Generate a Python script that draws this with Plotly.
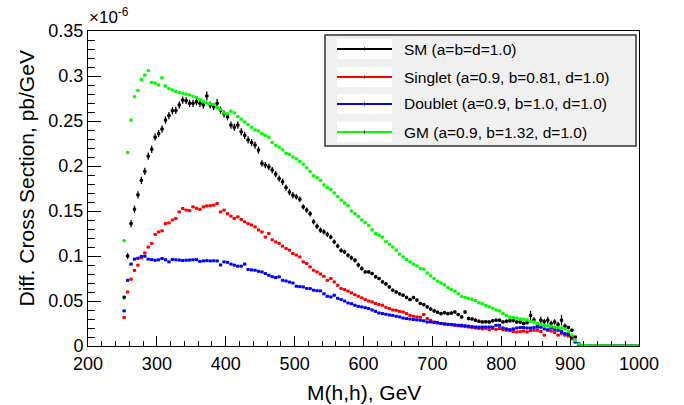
import plotly.graph_objects as go

# ---------------- data (values in units of 1e-6 pb/GeV) ----------------
BIN_START = 250.0   # GeV, lower edge of first bin
BIN_WIDTH = 5.0     # GeV

SM = [
 0.054, 0.100, 0.136, 0.152, 0.168, 0.184, 0.194, 0.211, 0.2185, 0.232,
 0.236, 0.241, 0.251, 0.256, 0.2614, 0.2617, 0.2678, 0.2733, 0.2725, 0.2696,
 0.2696, 0.2714, 0.2696, 0.2678, 0.2778, 0.2678, 0.266, 0.2696, 0.262, 0.258,
 0.2547, 0.2455, 0.243, 0.2455, 0.238, 0.234, 0.229, 0.226, 0.2233, 0.2177,
 0.203, 0.201, 0.199, 0.1955, 0.191, 0.186, 0.1825, 0.176, 0.171, 0.1676,
 0.1658, 0.163, 0.1546, 0.151, 0.147, 0.138, 0.133, 0.1287, 0.1268, 0.124,
 0.121, 0.1157, 0.111, 0.106, 0.1046, 0.1009, 0.098, 0.0953, 0.090, 0.086,
 0.0823, 0.0823, 0.0805, 0.077, 0.075, 0.0712, 0.069, 0.0656, 0.062, 0.060,
 0.058, 0.0564, 0.054, 0.0516, 0.0538, 0.051, 0.0472, 0.046, 0.0434, 0.041,
 0.039, 0.0375, 0.036, 0.037, 0.036, 0.0365, 0.0378, 0.035, 0.0323, 0.0378,
 0.0305, 0.030, 0.0286, 0.0275, 0.0267, 0.027, 0.0267, 0.028, 0.0286, 0.0286,
 0.0267, 0.0275, 0.028, 0.0286, 0.0267, 0.0267, 0.025, 0.026, 0.034, 0.029,
 0.023, 0.0286, 0.027, 0.0286, 0.025, 0.0267, 0.024, 0.0286, 0.022, 0.0205,
 0.0175, 0.010, 0.0027, 0.0005, 0.0003, 0.0002, 0.0002, 0.0001, 0.0001, 0.0001,
 0.0001, 0.0001, 0.0001, 0.0001, 0.0001, 0.0001, 0.0001, 0.0001, 0.0001, 0.0001,
]

SM_ERR = [
 0.002, 0.003, 0.004, 0.004, 0.004, 0.004, 0.004, 0.004, 0.004, 0.004,
 0.004, 0.004, 0.004, 0.004, 0.004, 0.004, 0.004, 0.004, 0.004, 0.004,
 0.004, 0.004, 0.004, 0.004, 0.005, 0.004, 0.004, 0.005, 0.004, 0.004,
 0.004, 0.004, 0.004, 0.004, 0.004, 0.004, 0.004, 0.004, 0.004, 0.004,
 0.0035, 0.0035, 0.0035, 0.0035, 0.0035, 0.0035, 0.0035, 0.0035, 0.0035, 0.0035,
 0.003, 0.003, 0.003, 0.003, 0.003, 0.003, 0.003, 0.003, 0.003, 0.003,
 0.0025, 0.0025, 0.0025, 0.0025, 0.0025, 0.0025, 0.0025, 0.0025, 0.0025, 0.0025,
 0.002, 0.002, 0.002, 0.002, 0.002, 0.002, 0.002, 0.002, 0.002, 0.002,
 0.002, 0.002, 0.002, 0.002, 0.002, 0.002, 0.002, 0.002, 0.002, 0.002,
 0.002, 0.002, 0.002, 0.002, 0.002, 0.002, 0.002, 0.002, 0.002, 0.002,
 0.002, 0.002, 0.002, 0.002, 0.002, 0.002, 0.002, 0.002, 0.002, 0.002,
 0.002, 0.002, 0.002, 0.0025, 0.002, 0.002, 0.002, 0.002, 0.005, 0.003,
 0.002, 0.004, 0.003, 0.004, 0.003, 0.003, 0.003, 0.006, 0.003, 0.002,
 0.002, 0.001, 0.0005, 0, 0, 0, 0, 0, 0, 0,
 0, 0, 0, 0, 0, 0, 0, 0, 0, 0,
]

SINGLET = [
 0.0316, 0.060, 0.0742, 0.084, 0.0898, 0.098, 0.1035, 0.110, 0.114, 0.124,
 0.1268, 0.128, 0.136, 0.1368, 0.140, 0.1417, 0.149, 0.1528, 0.151, 0.1505,
 0.1546, 0.153, 0.1518, 0.1546, 0.1557, 0.156, 0.1565, 0.1584, 0.149, 0.151,
 0.147, 0.1443, 0.1417, 0.1435, 0.1406, 0.138, 0.136, 0.1345, 0.1324, 0.129,
 0.1268, 0.121, 0.125, 0.118, 0.1157, 0.114, 0.111, 0.1083, 0.1065, 0.1028,
 0.101, 0.099, 0.0935, 0.0916, 0.088, 0.0842, 0.0823, 0.080, 0.0775, 0.073,
 0.075, 0.0712, 0.0675, 0.0638, 0.0627, 0.061, 0.059, 0.057, 0.0553, 0.0535,
 0.0516, 0.050, 0.049, 0.0472, 0.046, 0.0453, 0.043, 0.0416, 0.040, 0.0397,
 0.0385, 0.0378, 0.036, 0.034, 0.033, 0.0323, 0.032, 0.035, 0.0305, 0.0285,
 0.0267, 0.026, 0.025, 0.0245, 0.024, 0.0235, 0.023, 0.0225, 0.022, 0.0215,
 0.0211, 0.0205, 0.020, 0.0194, 0.019, 0.0194, 0.018, 0.0194, 0.0185, 0.0194,
 0.018, 0.0175, 0.017, 0.016, 0.0156, 0.016, 0.0165, 0.0156, 0.017, 0.0175,
 0.0175, 0.016, 0.012, 0.0175, 0.0165, 0.015, 0.012, 0.014, 0.012, 0.011,
 0.008, 0.0045, 0.001, 0.0003, 0.0002, 0.0001, 0.0001, 0.0001, 0.0, 0.0,
 0.0, 0.0, 0.0, 0.0, 0.0, 0.0, 0.0, 0.0, 0.0, 0.0,
]

DOUBLET = [
 0.039, 0.073, 0.091, 0.0965, 0.0975, 0.0995, 0.0998, 0.0965, 0.096, 0.0953,
 0.0958, 0.0972, 0.0958, 0.0935, 0.0962, 0.0958, 0.0955, 0.095, 0.0953, 0.0955,
 0.0958, 0.096, 0.094, 0.0945, 0.0948, 0.0945, 0.0947, 0.0945, 0.090, 0.0935,
 0.093, 0.091, 0.0898, 0.0887, 0.0887, 0.091, 0.085, 0.0845, 0.0842, 0.083,
 0.0823, 0.0805, 0.0786, 0.077, 0.076, 0.0768, 0.073, 0.0723, 0.071, 0.070,
 0.0664, 0.066, 0.0656, 0.064, 0.0638, 0.062, 0.0615, 0.0612, 0.058, 0.0553,
 0.0545, 0.0564, 0.053, 0.0516, 0.050, 0.0478, 0.047, 0.0453, 0.044, 0.0434,
 0.0425, 0.0416, 0.040, 0.0385, 0.0367, 0.036, 0.0353, 0.0345, 0.034, 0.033,
 0.0323, 0.031, 0.0305, 0.030, 0.0294, 0.029, 0.0286, 0.028, 0.0267, 0.0267,
 0.026, 0.0256, 0.025, 0.0245, 0.0241, 0.024, 0.0235, 0.023, 0.023, 0.0225,
 0.022, 0.0215, 0.0211, 0.021, 0.0211, 0.021, 0.0211, 0.021, 0.023, 0.023,
 0.020, 0.019, 0.0182, 0.019, 0.020, 0.0205, 0.0205, 0.020, 0.020, 0.0205,
 0.021, 0.021, 0.019, 0.018, 0.020, 0.0185, 0.0175, 0.016, 0.0138, 0.013,
 0.010, 0.0045, 0.001, 0.0003, 0.0002, 0.0001, 0.0001, 0.0001, 0.0, 0.0,
 0.0, 0.0, 0.0, 0.0, 0.0, 0.0, 0.0, 0.0, 0.0, 0.0,
]

GM = [
 0.117, 0.215, 0.251, 0.277, 0.284, 0.296, 0.301, 0.306, 0.293, 0.292,
 0.290, 0.298, 0.289, 0.286, 0.2845, 0.283, 0.2815, 0.281, 0.280, 0.279,
 0.2775, 0.276, 0.274, 0.2715, 0.270, 0.269, 0.2685, 0.265, 0.263, 0.259,
 0.258, 0.261, 0.259, 0.255, 0.252, 0.249, 0.246, 0.243, 0.240, 0.239,
 0.236, 0.234, 0.232, 0.226, 0.223, 0.221, 0.218, 0.214, 0.213, 0.210,
 0.208, 0.205, 0.202, 0.198, 0.194, 0.189, 0.187, 0.184, 0.179, 0.176,
 0.174, 0.170, 0.166, 0.162, 0.159, 0.156, 0.150, 0.147, 0.144, 0.140,
 0.137, 0.134, 0.129, 0.125, 0.123, 0.121, 0.116, 0.113, 0.110, 0.1065,
 0.102, 0.099, 0.096, 0.0935, 0.091, 0.089, 0.086, 0.0855, 0.081, 0.078,
 0.075, 0.072, 0.070, 0.068, 0.065, 0.063, 0.061, 0.058, 0.055, 0.054,
 0.053, 0.052, 0.0505, 0.048, 0.047, 0.045, 0.0435, 0.042, 0.040, 0.039,
 0.036, 0.034, 0.032, 0.0316, 0.031, 0.030, 0.0297, 0.029, 0.027, 0.0267,
 0.025, 0.024, 0.023, 0.0225, 0.022, 0.021, 0.0205, 0.020, 0.019, 0.016,
 0.012, 0.006, 0.002, 0.0008, 0.0005, 0.0004, 0.0003, 0.0003, 0.0003, 0.0002,
 0.0002, 0.0002, 0.0002, 0.0001, 0.0001, 0.0001, 0.0001, 0.0001, 0.0001, 0.0001,
]

SINGLET_ERR = 0.001
DOUBLET_ERR = 0.001
GM_ERR = 0.0015

LABELS = [
    "SM (a=b=d=1.0)",
    "Singlet (a=0.9, b=0.81, d=1.0)",
    "Doublet (a=0.9, b=1.0, d=1.0)",
    "GM (a=0.9, b=1.32, d=1.0)",
]
COLORS = ["#000000", "#ff0000", "#0000ff", "#00ff00"]

for arr in (SM, SM_ERR, SINGLET, DOUBLET, GM):
    assert len(arr) == 150, len(arr)

X = [BIN_START + BIN_WIDTH * (i + 0.5) for i in range(len(SM))]

# ---------------- figure ----------------
FONT = "Liberation Sans, Arial, Helvetica, sans-serif"
W, H = 684, 405
L, R, T, B = 88, 45, 31, 59
PW, PH = W - L - R, H - T - B


def px(xp):
    return (xp - L) / PW


def py(yp):
    return (H - B - yp) / PH


fig = go.Figure()

series = [
    (SM, SM_ERR),
    (SINGLET, [SINGLET_ERR] * len(SINGLET)),
    (DOUBLET, [DOUBLET_ERR] * len(DOUBLET)),
    (GM, [GM_ERR] * len(GM)),
]
for (vals, errs), name, col in zip(series, LABELS, COLORS):
    fig.add_trace(go.Scatter(
        x=X, y=vals, mode="markers", name=name, showlegend=False,
        marker=dict(symbol="square", size=3, color=col, line=dict(width=0)),
        error_y=dict(type="data", array=errs, color=col, thickness=1.3, width=0),
        error_x=dict(type="constant", value=BIN_WIDTH / 2, color=col, thickness=1.3, width=0),
    ))

axis_common = dict(
    showline=True, linecolor="black", linewidth=1, mirror=True,
    showgrid=False, zeroline=False, ticks="inside", tickcolor="black",
    tickwidth=1, tickfont=dict(family=FONT, size=18, color="black"),
)
fig.update_xaxes(range=[200, 1000], dtick=100, tick0=200, ticklen=10,
                 ticklabelstandoff=1,
                 minor=dict(ticks="inside", dtick=20, ticklen=5, tickcolor="black"),
                 **axis_common)
fig.update_yaxes(range=[0, 0.35], dtick=0.05, tick0=0, ticklen=13,
                 minor=dict(ticks="inside", dtick=0.01, ticklen=7, tickcolor="black"),
                 **axis_common)

shapes = []
annotations = []

# axis titles & exponent
annotations.append(dict(text="M(h,h), GeV", xref="paper", yref="paper",
                        x=0.5, y=py(392), xanchor="center", yanchor="middle",
                        showarrow=False, font=dict(family=FONT, size=21, color="black")))
annotations.append(dict(text="Diff. Cross Section, pb/GeV", xref="paper", yref="paper",
                        x=px(26), y=py(178.5), xanchor="center", yanchor="middle",
                        textangle=-90, showarrow=False,
                        font=dict(family=FONT, size=21, color="black")))
annotations.append(dict(text="×10<sup>-6</sup>", xref="paper", yref="paper",
                        x=px(87), y=py(29), xanchor="left", yanchor="bottom",
                        showarrow=False, font=dict(family=FONT, size=17, color="black")))

# legend box (manual)
shapes.append(dict(type="rect", xref="paper", yref="paper",
                   x0=px(325), x1=px(636), y0=py(146), y1=py(35),
                   fillcolor="#f0f0f0", line=dict(color="#333333", width=1.5), layer="above"))
row_y = [49, 77, 104, 132]
for ry, name, col in zip(row_y, LABELS, COLORS):
    shapes.append(dict(type="rect", xref="paper", yref="paper",
                       x0=px(337), x1=px(392), y0=py(ry + 10), y1=py(ry - 10),
                       fillcolor="white", line=dict(width=0), layer="above"))
    shapes.append(dict(type="line", xref="paper", yref="paper",
                       x0=px(337), x1=px(392), y0=py(ry), y1=py(ry),
                       line=dict(color=col, width=2), layer="above"))
    shapes.append(dict(type="line", xref="paper", yref="paper",
                       x0=px(364.5), x1=px(364.5), y0=py(ry + 1.5), y1=py(ry - 1.5),
                       line=dict(color="black", width=1), layer="above"))
    annotations.append(dict(text=name, xref="paper", yref="paper",
                            x=px(402), y=py(ry), xanchor="left", yanchor="middle",
                            showarrow=False, font=dict(family=FONT, size=15.5, color="black")))

fig.update_layout(
    width=W, height=H,
    margin=dict(l=L, r=R, t=T, b=B, pad=0),
    plot_bgcolor="white", paper_bgcolor="white",
    showlegend=False,
    shapes=shapes, annotations=annotations,
    font=dict(family=FONT, color="black"),
)

fig.write_html("out.html")
